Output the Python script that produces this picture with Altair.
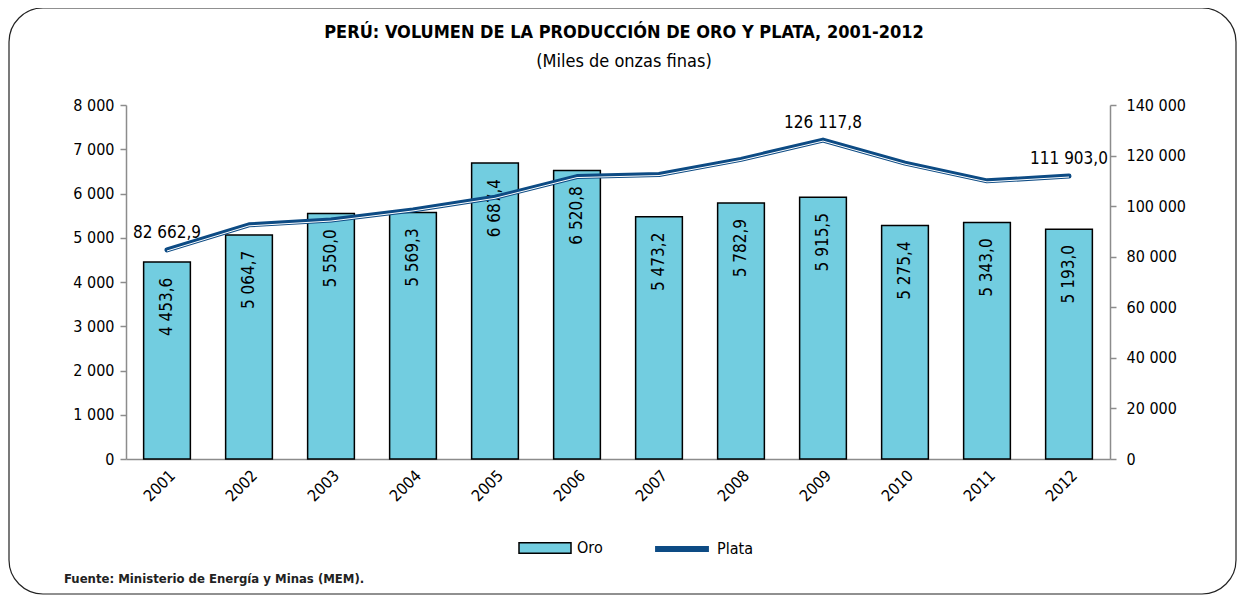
import altair as alt
import pandas as pd

years = ["2001", "2002", "2003", "2004", "2005", "2006", "2007", "2008", "2009", "2010", "2011", "2012"]
oro = [4453.6, 5064.7, 5550.0, 5569.3, 6687.4, 6520.8, 5473.2, 5782.9, 5915.5, 5275.4, 5343.0, 5193.0]
plata = [82662.9, 92600.0, 94500.0, 98500.0, 103500.0, 111700.0, 112500.0, 118500.0, 126117.8, 117000.0, 110000.0, 111903.0]
plata_labeled = ["2001", "2009", "2012"]

left_ticks = [0, 1000, 2000, 3000, 4000, 5000, 6000, 7000, 8000]
right_ticks = [0, 20000, 40000, 60000, 80000, 100000, 120000, 140000]

title_text = "PERÚ: VOLUMEN DE LA PRODUCCIÓN DE ORO Y PLATA, 2001-2012"
subtitle_text = "(Miles de onzas finas)"
footer_text = "Fuente: Ministerio de Energía y Minas (MEM)."

FONT = "Liberation Sans Narrow, DejaVu Sans Condensed, Arial Narrow, sans-serif"
CYAN = "#72CDE0"
NAVY = "#0D4B84"

df = pd.DataFrame({"year": years, "oro": oro, "plata": plata})
df["show"] = df["year"].isin(plata_labeled)

W, H = 984, 354

x = alt.X("year:N", title=None,
          scale=alt.Scale(paddingInner=0.43, paddingOuter=0.215),
          axis=alt.Axis(labelAngle=-45, ticks=False, domainColor="#8c8c8c", domainWidth=1.5,
                        labelFontSize=16, labelFont=FONT, labelColor="#000", labelPadding=8))

num_expr = "replace(format(datum.value, ','), ',', ' ')"
lab_expr = "replace(replace(format(datum.{f}, ',.1f'), ',', ' '), '.', ',')"

left_axis = alt.Axis(orient="left", values=left_ticks, grid=False, labelExpr=num_expr,
                     domainColor="#8c8c8c", domainWidth=1.5, tickColor="#8c8c8c", tickWidth=1.5,
                     tickSize=6, labelPadding=6, labelFontSize=16, labelFont=FONT, labelColor="#000")
right_axis = alt.Axis(orient="right", values=right_ticks, grid=False, labelExpr=num_expr,
                      domainColor="#8c8c8c", domainWidth=1.5, tickColor="#8c8c8c", tickWidth=1.5,
                      tickSize=6, labelPadding=10, labelFontSize=16, labelFont=FONT, labelColor="#000")

yl = alt.Y("oro:Q", title=None, scale=alt.Scale(domain=[0, 8000], nice=False), axis=left_axis)
yr = alt.Y("plata:Q", title=None, scale=alt.Scale(domain=[0, 140000], nice=False), axis=right_axis)

base = alt.Chart(df)

bars = base.transform_calculate(serie="'Oro'").mark_bar(stroke="black", strokeWidth=1.5).encode(
    x=x, y=yl,
    fill=alt.Fill("serie:N", scale=alt.Scale(domain=["Oro"], range=[CYAN]),
                  legend=alt.Legend(title=None, orient="none", legendX=392, legendY=416, padding=0,
                                    symbolType="M-1,-0.2H1V0.2H-1Z", symbolSize=2704,
                                    symbolStrokeColor="black", symbolStrokeWidth=1.5,
                                    labelFontSize=16, labelFont=FONT, labelColor="#000", labelOffset=5)),
)

bar_labels = base.transform_calculate(lab=lab_expr.format(f="oro")).mark_text(
    angle=270, align="center", baseline="middle", dx=-45, fontSize=17, font=FONT, color="#000"
).encode(x=x, y=yl, text="lab:N")

# decorations (no y scale)
frame_df = pd.DataFrame({"k": [0]})
frame = alt.Chart(frame_df).mark_rect(filled=False, stroke="#222", strokeWidth=1.2, cornerRadius=34).encode(
    x=alt.value(-117), x2=alt.value(W + 126), y=alt.value(-97), y2=alt.value(H + 135))

text_df = pd.DataFrame({"t": [title_text]})
title = alt.Chart(pd.DataFrame({"t": [title_text]})).mark_text(
    align="center", baseline="middle", fontSize=18, fontWeight="bold", font=FONT, color="#000").encode(
    x=alt.value(W / 2 + 6), y=alt.value(-72), text="t:N")
subtitle = alt.Chart(pd.DataFrame({"t": [subtitle_text]})).mark_text(
    align="center", baseline="middle", fontSize=18, font=FONT, color="#000").encode(
    x=alt.value(W / 2 + 6), y=alt.value(-43), text="t:N")
footer = alt.Chart(pd.DataFrame({"t": [footer_text]})).mark_text(
    align="left", baseline="middle", fontSize=13, fontWeight="bold", font=FONT, color="#222").encode(
    x=alt.value(-62), y=alt.value(H + 120), text="t:N")

left = alt.layer(frame, title, subtitle, footer, bars, bar_labels)

line = base.transform_calculate(serie="'Plata'").mark_line(strokeWidth=5, strokeCap="round", strokeJoin="round").encode(
    x=x, y=yr,
    stroke=alt.Stroke("serie:N", scale=alt.Scale(domain=["Plata"], range=[NAVY]),
                      legend=alt.Legend(title=None, orient="none", legendX=526, legendY=414, padding=0,
                                        symbolType="stroke", symbolSize=2900, symbolStrokeWidth=6,
                                        labelFontSize=16, labelFont=FONT, labelColor="#000", labelOffset=5)),
)
line_white = base.mark_line(strokeWidth=1, color="white", yOffset=1, strokeJoin="round").encode(x=x, y=yr)

line_labels = base.transform_filter("datum.show").transform_calculate(lab=lab_expr.format(f="plata")).mark_text(
    align="center", baseline="middle", dy=-17, fontSize=17, font=FONT, color="#000"
).encode(x=x, y=yr, text="lab:N")

right = alt.layer(line, line_white, line_labels)

chart = alt.layer(left, right).resolve_scale(y="independent", fill="independent", stroke="independent").properties(
    width=W, height=H,
    padding={"left": 118, "top": 97, "right": 130, "bottom": 140},
    autosize=alt.AutoSizeParams(type="none"),
).configure_view(stroke=None)

chart.save("out.html", embed_options={"renderer": "svg", "actions": False})
